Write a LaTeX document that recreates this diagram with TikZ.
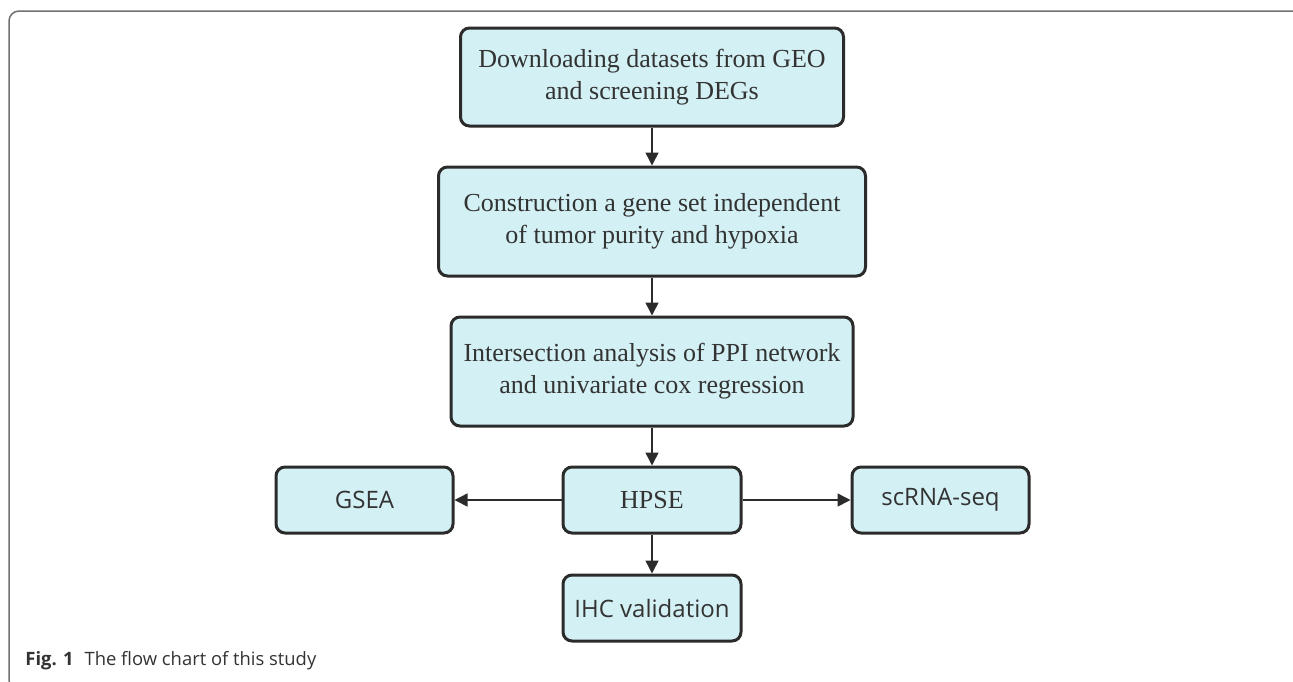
\documentclass[tikz,border=0pt]{standalone}
\usepackage{fontspec}
\setmainfont{Liberation Serif}
\newfontfamily\boxsans{Open Sans}
\usetikzlibrary{arrows.meta}
\definecolor{boxfill}{HTML}{D3F0F4}
\definecolor{boxline}{HTML}{2B2B2B}
\definecolor{txt}{HTML}{333333}
\definecolor{frame}{HTML}{707070}
\tikzset{
  stage/.style={draw=boxline,fill=boxfill,line width=1.5pt,rounded corners=4.5pt,
    inner sep=0pt,align=center,text=txt,font=\fontsize{13}{16}\selectfont},
  sidebox/.style={stage,font=\boxsans\fontsize{12}{14}\selectfont},
  flow/.style={draw=boxline,line width=0.75pt,-{Triangle[length=6.5pt,width=6.5pt]}}
}
\begin{document}
\begin{tikzpicture}[x=0.5pt,y=-0.5pt]
  \useasboundingbox (0,0) rectangle (1293,681);
  \begin{scope}
    \clip (0,0) rectangle (1293,681);
    \draw[frame,line width=0.75pt,rounded corners=5pt] (9,11) rectangle (1302,690);
  \end{scope}
      \node[stage,minimum width=191.5pt,minimum height=49pt] (D) at (652,77) {Downloading datasets from GEO\\and screening DEGs};
      \node[stage,minimum width=213.5pt,minimum height=54.5pt] (C) at (652,221.5) {Construction a gene set independent\\of tumor purity and hypoxia};
      \node[stage,minimum width=201pt,minimum height=54.5pt] (I) at (652,371.5) {Intersection analysis of PPI network\\and univariate cox regression};
      \node[stage,minimum width=89pt,minimum height=33pt] (H) at (652,500) {HPSE};
      \node[sidebox,minimum width=88.5pt,minimum height=33pt] (G) at (364.5,500) {GSEA};
      \node[sidebox,minimum width=88.5pt,minimum height=33pt] (S) at (940.5,500) {scRNA-seq};
      \node[sidebox,minimum width=89pt,minimum height=33pt] (V) at (652,608) {IHC validation};
      \node[anchor=base west,inner sep=0pt,text=txt,font=\boxsans\fontsize{9.2}{11}\selectfont] (cap) at (25,665) {\textbf{Fig. 1}\hspace{0.6em}The flow chart of this study};
      \draw[flow] (D) -- (C);
      \draw[flow] (C) -- (I);
      \draw[flow] (I) -- (H);
      \draw[flow] (H) -- (G);
      \draw[flow] (H) -- (S);
      \draw[flow] (H) -- (V);
\end{tikzpicture}
\end{document}
